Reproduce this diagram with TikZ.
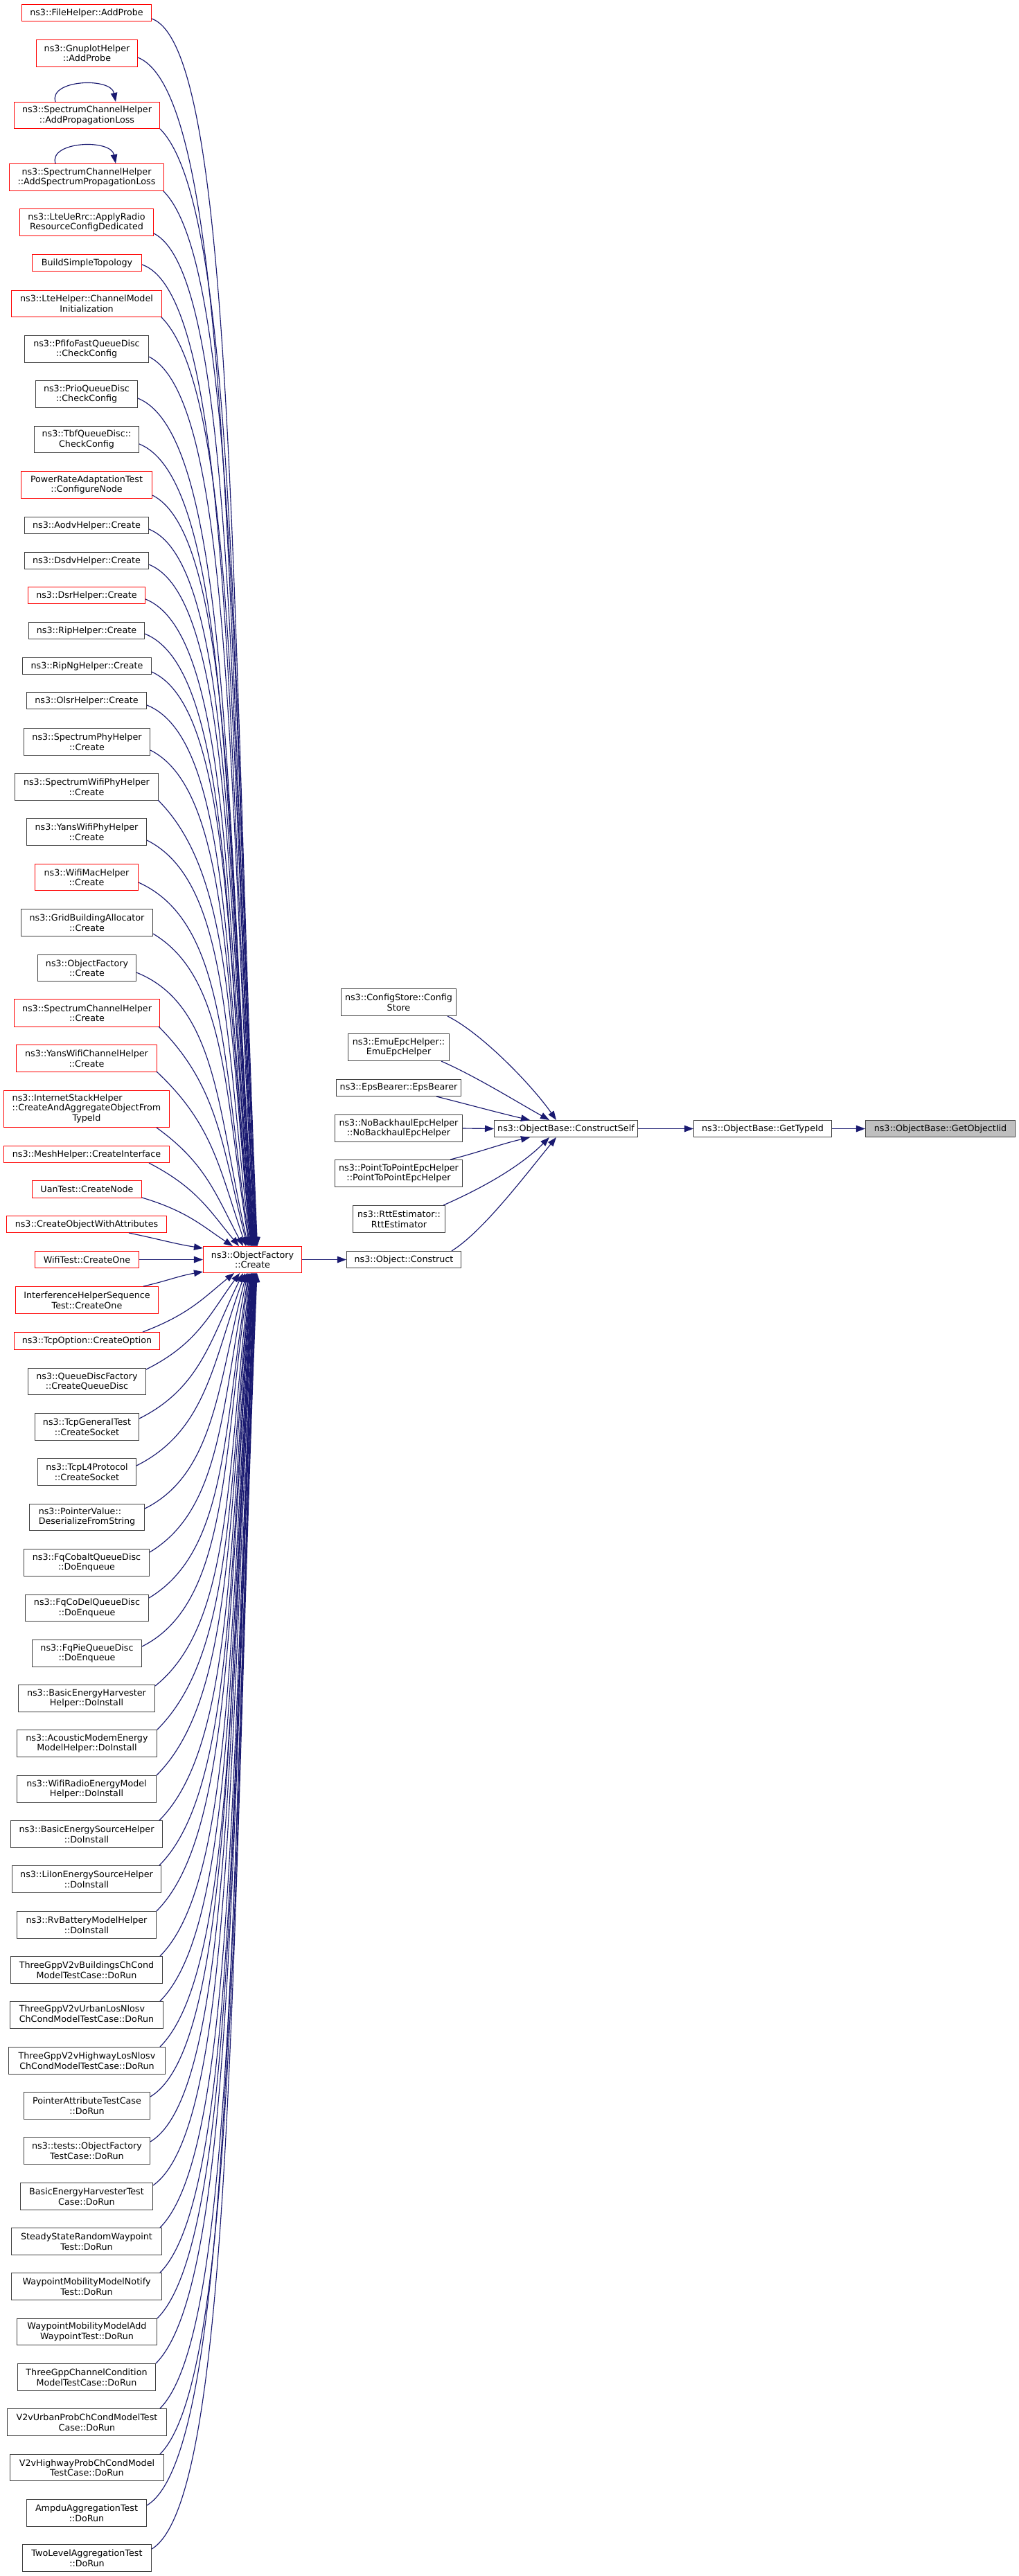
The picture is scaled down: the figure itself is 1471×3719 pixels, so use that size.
\documentclass[tikz,border=0pt]{standalone}
\usepackage{fontspec}
\setmainfont{DejaVu Sans}
\usetikzlibrary{arrows.meta}
\definecolor{edgec}{HTML}{191970}
\definecolor{redc}{HTML}{FF0000}
\definecolor{grayb}{HTML}{404040}
\definecolor{rootfill}{HTML}{BFBFBF}
\newcommand\gvfont{\fontsize{12.7pt}{14.5pt}\selectfont}
\tikzset{
  gbox/.style={draw=grayb, line width=1.25pt, inner sep=0pt, align=center, font=\gvfont, fill=white, text=black},
  rbox/.style={gbox, draw=redc},
  kbox/.style={gbox},
  rootbox/.style={gbox, fill=rootfill},
  edge/.style={draw=edgec, line width=1.15pt, -{Triangle[length=13pt,width=9.5pt]}, color=edgec},
}
\newcommand\gvnode[7]{%
  \pgfmathsetmacro\gcx{(#2+#3)/2}%
  \pgfmathsetmacro\gcy{(#4+#5)/2}%
  \pgfmathsetmacro\gw{#3-#2-1.2}%
  \pgfmathsetmacro\gh{#5-#4-1.2}%
  \expandafter\xdef\csname gcx-#1\endcsname{\gcx}%
  \expandafter\xdef\csname gcy-#1\endcsname{\gcy}%
  \node[#6, minimum width=\gw pt, minimum height=\gh pt] (#1) at (\gcx,\gcy) {#7};}
% edge arriving on top of Create
\newcommand\topedge[5]{%
  \edef\gnx{\csname gcx-#1\endcsname}\edef\gny{\csname gcy-#1\endcsname}%
  \pgfmathsetmacro\gox{#2-\gnx}%
  \pgfmathsetmacro\goy{#3-\gny}%
  \pgfmathsetmacro\gdx{#4-#2}%
  \pgfmathsetmacro\gD{1799-#3}%
  \pgfmathsetmacro\gf{min(1,\gD/500)}%
  \pgfmathsetmacro\gA{\gdx*(0.45+0.35*\gf)}%
  \pgfmathsetmacro\gB{min(#5*\gA,0.3*\gD)}%
  \pgfmathsetmacro\gC{-\gdx*(0.35-0.1*\gf)}%
  \pgfmathsetmacro\gE{-\gD*(0.4+0.1*\gf)}%
  \pgfmathsetmacro\gtx{#4-364.5}%
  \draw[edge] ([shift={(\gox,\goy)}]#1.center) .. controls +(\gA,\gB) and +(\gC,\gE) .. ([shift={(\gtx,-19.5)}]cr.center);}
% edge arriving on bottom of Create
\newcommand\botedge[5]{%
  \edef\gnx{\csname gcx-#1\endcsname}\edef\gny{\csname gcy-#1\endcsname}%
  \pgfmathsetmacro\gox{#2-\gnx}%
  \pgfmathsetmacro\goy{#3-\gny}%
  \pgfmathsetmacro\gdx{#4-#2}%
  \pgfmathsetmacro\gD{#3-1838}%
  \pgfmathsetmacro\gf{min(1,\gD/500)}%
  \pgfmathsetmacro\gA{\gdx*(0.45+0.35*\gf)}%
  \pgfmathsetmacro\gB{-min(#5*\gA,0.3*\gD)}%
  \pgfmathsetmacro\gC{-\gdx*(0.35-0.1*\gf)}%
  \pgfmathsetmacro\gE{\gD*(0.4+0.1*\gf)}%
  \pgfmathsetmacro\gtx{#4-364.5}%
  \draw[edge] ([shift={(\gox,\goy)}]#1.center) .. controls +(\gA,\gB) and +(\gC,\gE) .. ([shift={(\gtx,19.5)}]cr.center);}
\begin{document}
\begin{tikzpicture}[x=1pt,y=-1pt]
\useasboundingbox (0,0) rectangle (1471,3719);
\fill[white] (0,0) rectangle (1471,3719);
% left column
\gvnode{n1}{31}{219}{6}{31}{rbox}{ns3::FileHelper::AddProbe}
\gvnode{n2}{52}{199}{57}{97}{rbox}{ns3::GnuplotHelper\\::AddProbe}
\gvnode{n3}{20}{231}{147}{186}{rbox}{ns3::SpectrumChannelHelper\\::AddPropagationLoss}
\gvnode{n4}{13}{237}{236}{276}{rbox}{ns3::SpectrumChannelHelper\\::AddSpectrumPropagationLoss}
\gvnode{n5}{28}{222}{301}{341}{rbox}{ns3::LteUeRrc::ApplyRadio\\ResourceConfigDedicated}
\gvnode{n6}{46}{205}{367}{392}{rbox}{BuildSimpleTopology}
\gvnode{n7}{16}{234}{419}{458}{rbox}{ns3::LteHelper::ChannelModel\\Initialization}
\gvnode{n8}{35}{215}{484}{524}{kbox}{ns3::PfifoFastQueueDisc\\::CheckConfig}
\gvnode{n9}{51}{199}{549}{589}{kbox}{ns3::PrioQueueDisc\\::CheckConfig}
\gvnode{n10}{49}{201}{615}{654}{kbox}{ns3::TbfQueueDisc::\\CheckConfig}
\gvnode{n11}{30}{220}{680}{720}{rbox}{PowerRateAdaptationTest\\::ConfigureNode}
\gvnode{n12}{35}{215}{746}{771}{kbox}{ns3::AodvHelper::Create}
\gvnode{n13}{35}{215}{797}{822}{kbox}{ns3::DsdvHelper::Create}
\gvnode{n14}{40}{210}{847}{872}{rbox}{ns3::DsrHelper::Create}
\gvnode{n15}{41}{209}{898}{923}{kbox}{ns3::RipHelper::Create}
\gvnode{n16}{32}{219}{949}{974}{kbox}{ns3::RipNgHelper::Create}
\gvnode{n17}{38}{212}{999}{1024}{kbox}{ns3::OlsrHelper::Create}
\gvnode{n18}{34}{217}{1051}{1091}{kbox}{ns3::SpectrumPhyHelper\\::Create}
\gvnode{n19}{21}{229}{1116}{1156}{kbox}{ns3::SpectrumWifiPhyHelper\\::Create}
\gvnode{n20}{38}{212}{1181}{1221}{kbox}{ns3::YansWifiPhyHelper\\::Create}
\gvnode{n21}{50}{200}{1247}{1286}{rbox}{ns3::WifiMacHelper\\::Create}
\gvnode{n22}{30}{221}{1312}{1352}{kbox}{ns3::GridBuildingAllocator\\::Create}
\gvnode{n23}{54}{197}{1378}{1417}{kbox}{ns3::ObjectFactory\\::Create}
\gvnode{n24}{20}{231}{1442}{1483}{rbox}{ns3::SpectrumChannelHelper\\::Create}
\gvnode{n25}{23}{227}{1508}{1548}{rbox}{ns3::YansWifiChannelHelper\\::Create}
\gvnode{n26}{5}{245}{1574}{1628}{rbox}{\begin{tabular}{@{}l@{}}ns3::InternetStackHelper\\::CreateAndAggregateObjectFrom\\\multicolumn{1}{@{}c@{}}{TypeId}\end{tabular}}
\gvnode{n27}{5}{245}{1654}{1679}{rbox}{ns3::MeshHelper::CreateInterface}
\gvnode{n28}{46}{205}{1704}{1730}{rbox}{UanTest::CreateNode}
\gvnode{n29}{9}{241}{1755}{1780}{rbox}{ns3::CreateObjectWithAttributes}
\gvnode{n30}{50}{201}{1806}{1831}{rbox}{WifiTest::CreateOne}
\gvnode{n31}{22}{229}{1857}{1897}{rbox}{InterferenceHelperSequence\\Test::CreateOne}
\gvnode{n32}{20}{231}{1923}{1949}{rbox}{ns3::TcpOption::CreateOption}
\gvnode{n33}{40}{211}{1975}{2014}{kbox}{ns3::QueueDiscFactory\\::CreateQueueDisc}
\gvnode{n34}{50}{201}{2040}{2080}{kbox}{ns3::TcpGeneralTest\\::CreateSocket}
\gvnode{n35}{54}{197}{2105}{2145}{kbox}{ns3::TcpL4Protocol\\::CreateSocket}
\gvnode{n36}{42}{209}{2171}{2210}{kbox}{\begin{tabular}{@{}l@{}}ns3::PointerValue::\\DeserializeFromString\end{tabular}}
\gvnode{n37}{34}{216}{2236}{2276}{kbox}{ns3::FqCobaltQueueDisc\\::DoEnqueue}
\gvnode{n38}{36}{215}{2302}{2341}{kbox}{ns3::FqCoDelQueueDisc\\::DoEnqueue}
\gvnode{n39}{46}{205}{2367}{2407}{kbox}{ns3::FqPieQueueDisc\\::DoEnqueue}
\gvnode{n40}{26}{224}{2432}{2472}{kbox}{ns3::BasicEnergyHarvester\\Helper::DoInstall}
\gvnode{n41}{24}{227}{2497}{2537}{kbox}{ns3::AcousticModemEnergy\\ModelHelper::DoInstall}
\gvnode{n42}{24}{226}{2563}{2603}{kbox}{ns3::WifiRadioEnergyModel\\Helper::DoInstall}
\gvnode{n43}{15}{235}{2628}{2668}{kbox}{ns3::BasicEnergySourceHelper\\::DoInstall}
\gvnode{n44}{17}{233}{2693}{2733}{kbox}{ns3::LiIonEnergySourceHelper\\::DoInstall}
\gvnode{n45}{24}{226}{2759}{2799}{kbox}{ns3::RvBatteryModelHelper\\::DoInstall}
\gvnode{n46}{15}{235}{2824}{2864}{kbox}{ThreeGppV2vBuildingsChCond\\ModelTestCase::DoRun}
\gvnode{n47}{14}{236}{2889}{2929}{kbox}{\begin{tabular}{@{}l@{}}ThreeGppV2vUrbanLosNlosv\\ChCondModelTestCase::DoRun\end{tabular}}
\gvnode{n48}{12}{239}{2955}{2995}{kbox}{ThreeGppV2vHighwayLosNlosv\\ChCondModelTestCase::DoRun}
\gvnode{n49}{34}{217}{3020}{3060}{kbox}{PointerAttributeTestCase\\::DoRun}
\gvnode{n50}{34}{217}{3085}{3125}{kbox}{ns3::tests::ObjectFactory\\TestCase::DoRun}
\gvnode{n51}{29}{221}{3151}{3191}{kbox}{BasicEnergyHarvesterTest\\Case::DoRun}
\gvnode{n52}{16}{234}{3216}{3256}{kbox}{SteadyStateRandomWaypoint\\Test::DoRun}
\gvnode{n53}{16}{234}{3281}{3321}{kbox}{WaypointMobilityModelNotify\\Test::DoRun}
\gvnode{n54}{24}{227}{3347}{3386}{kbox}{WaypointMobilityModelAdd\\WaypointTest::DoRun}
\gvnode{n55}{25}{225}{3412}{3452}{kbox}{ThreeGppChannelCondition\\ModelTestCase::DoRun}
\gvnode{n56}{10}{241}{3477}{3517}{kbox}{V2vUrbanProbChCondModelTest\\Case::DoRun}
\gvnode{n57}{14}{237}{3543}{3582}{kbox}{V2vHighwayProbChCondModel\\TestCase::DoRun}
\gvnode{n58}{38}{212}{3608}{3648}{kbox}{AmpduAggregationTest\\::DoRun}
\gvnode{n59}{32}{219}{3673}{3713}{kbox}{TwoLevelAggregationTest\\::DoRun}
% middle and right
\gvnode{cr}{293}{436}{1799}{1838}{rbox}{ns3::ObjectFactory\\::Create}
\gvnode{oc}{500}{666}{1806}{1831}{kbox}{ns3::Object::Construct}
\gvnode{cfg}{492}{659}{1427}{1467}{kbox}{ns3::ConfigStore::Config\\Store}
\gvnode{emu}{502}{649}{1492}{1532}{kbox}{ns3::EmuEpcHelper::\\EmuEpcHelper}
\gvnode{eps}{485}{666}{1558}{1583}{kbox}{ns3::EpsBearer::EpsBearer}
\gvnode{nob}{483}{668}{1609}{1649}{kbox}{ns3::NoBackhaulEpcHelper\\::NoBackhaulEpcHelper}
\gvnode{p2p}{483}{668}{1674}{1714}{kbox}{ns3::PointToPointEpcHelper\\::PointToPointEpcHelper}
\gvnode{rtt}{509}{643}{1740}{1780}{kbox}{ns3::RttEstimator::\\RttEstimator}
\gvnode{cself}{713}{921}{1617}{1642}{kbox}{ns3::ObjectBase::ConstructSelf}
\gvnode{gti}{1001}{1201}{1617}{1642}{kbox}{ns3::ObjectBase::GetTypeId}
\gvnode{root}{1249}{1466}{1617}{1642}{rootbox}{ns3::ObjectBase::GetObjectIid}
% self loops
\draw[edge] ([shift={(-45.5,0)}]n3.north) .. controls +(-10,-32) and +(-7,-36) .. ([shift={(41.5,0)}]n3.north);
\draw[edge] ([shift={(-45,0)}]n4.north) .. controls +(-10,-32) and +(-7,-36) .. ([shift={(42,0)}]n4.north);
% edges into Create from above
\topedge{n1}{219}{27}{371.5}{0.35}
\topedge{n2}{199}{83}{371}{0.4}
\topedge{n3}{231}{186}{370.5}{1}
\topedge{n4}{236}{276}{370}{1}
\topedge{n5}{222}{337}{369.5}{0.5}
\topedge{n6}{205}{382}{369}{0.35}
\topedge{n7}{233}{458}{368.5}{1}
\topedge{n8}{215}{515}{368}{0.5}
\topedge{n9}{199}{575}{367.5}{0.4}
\topedge{n10}{201}{641}{367}{0.4}
\topedge{n11}{220}{715}{366.5}{0.5}
\topedge{n12}{215}{764}{366}{0.4}
\topedge{n13}{215}{815}{365.5}{0.4}
\topedge{n14}{210}{865}{365}{0.4}
\topedge{n15}{209}{915}{364.5}{0.4}
\topedge{n16}{219}{970}{364}{0.45}
\topedge{n17}{212}{1018}{363.5}{0.4}
\topedge{n18}{217}{1083}{363}{0.5}
\topedge{n19}{228}{1155}{362.5}{1}
\topedge{n20}{212}{1213}{362}{0.5}
\topedge{n21}{200}{1274}{361}{0.45}
\topedge{n22}{221}{1348}{360}{0.6}
\topedge{n23}{197}{1404}{358.5}{0.4}
\topedge{n24}{229}{1482}{357}{1}
\topedge{n25}{226}{1547}{355}{1}
\topedge{n26}{226}{1628}{351}{1}
\topedge{n27}{215}{1679}{345}{0.6}
\topedge{n28}{205}{1729}{336}{0.3}
% edges into Create from the left side
\draw[edge] ([shift={(61,0)}]n29.south) .. controls +(40,8) and +(-40,-6) .. ([shift={(0,-16.5)}]cr.west);
\draw[edge] (n30.east) -- (cr.west);
\draw[edge] ([shift={(81.5,0)}]n31.north) .. controls +(35,-8) and +(-35,6) .. ([shift={(0,17.5)}]cr.west);
% edges into Create from below
\botedge{n32}{206}{1923}{338}{0.5}
\botedge{n33}{211}{1977}{346}{0.5}
\botedge{n34}{201}{2048}{351}{0.5}
\botedge{n35}{197}{2116}{354}{0.5}
\botedge{n36}{209}{2178}{356}{0.5}
\botedge{n37}{216}{2241}{357.5}{0.6}
\botedge{n38}{215}{2307}{359}{0.6}
\botedge{n39}{205}{2377}{360}{0.5}
\botedge{n40}{224}{2434}{361}{0.8}
\botedge{n41}{227}{2497}{362}{1}
\botedge{n42}{226}{2563}{362.5}{1}
\botedge{n43}{230}{2628}{363}{1}
\botedge{n44}{230}{2693}{363.5}{1}
\botedge{n45}{226}{2759}{364}{1}
\botedge{n46}{231}{2824}{364.5}{1}
\botedge{n47}{231}{2889}{365}{1}
\botedge{n48}{231}{2955}{365.5}{1}
\botedge{n49}{217}{3027}{366}{0.6}
\botedge{n50}{217}{3092}{366.5}{0.6}
\botedge{n51}{221}{3155}{367}{0.7}
\botedge{n52}{231}{3216}{367.5}{1}
\botedge{n53}{231}{3281}{368}{1}
\botedge{n54}{227}{3347}{368.5}{1}
\botedge{n55}{225}{3412}{369}{1}
\botedge{n56}{231}{3477}{369.5}{1}
\botedge{n57}{231}{3543}{370}{1}
\botedge{n58}{212}{3617}{370.5}{0.6}
\botedge{n59}{219}{3680}{371}{0.6}
% right part
\draw[edge] (cr.east) -- (oc.west);
\draw[edge] ([shift={(69,0)}]oc.north) .. controls +(45,-28) and +(-45,55) .. ([shift={(-14,0)}]cself.south);
\draw[edge] ([shift={(70.5,0)}]cfg.south) .. controls +(50,25) and +(-35,-50) .. ([shift={(-14,0)}]cself.north);
\draw[edge] ([shift={(61.5,0)}]emu.south) .. controls +(50,22) and +(-50,-28) .. ([shift={(-24,0)}]cself.north);
\draw[edge] ([shift={(54.5,0)}]eps.south) .. controls +(40,10) and +(-40,-9) .. ([shift={(-52,0)}]cself.north);
\draw[edge] (nob.east) -- (cself.west);
\draw[edge] ([shift={(74.5,0)}]p2p.north) .. controls +(40,-10) and +(-40,9) .. ([shift={(-52,0)}]cself.south);
\draw[edge] ([shift={(64,0)}]rtt.north) .. controls +(50,-22) and +(-45,45) .. ([shift={(-24,0)}]cself.south);
\draw[edge] (cself.east) -- (gti.west);
\draw[edge] (gti.east) -- (root.west);
\end{tikzpicture}
\end{document}
